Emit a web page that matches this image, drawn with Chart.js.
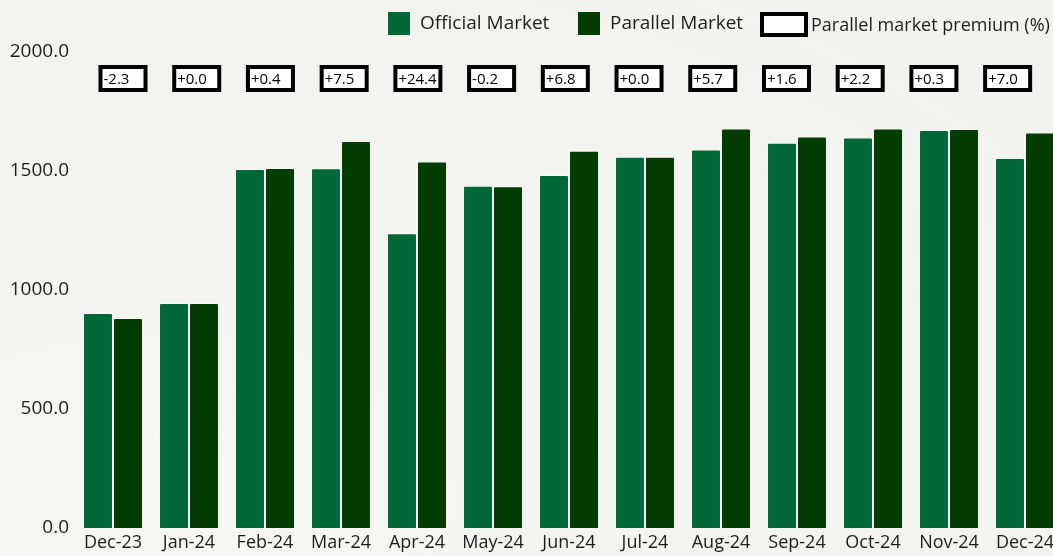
<!DOCTYPE html>
<html>
<head>
<meta charset="utf-8">
<script src="https://cdn.jsdelivr.net/npm/chart.js@4"></script>
<style>
  html, body { margin: 0; padding: 0; overflow: hidden; }
  body {
    width: 1053px; height: 556px;
    background: radial-gradient(ellipse at 15% 90%, #f6f6f2 0%, #f3f3ef 45%, #f2f2ee 100%);
  }
  #wrap { position: absolute; left: 0; top: 0; width: 1063px; height: 556px; }
</style>
</head>
<body>
<div id="wrap"><canvas id="myChart"></canvas></div>
<script>
// data
let months = ['Dec-23', 'Jan-24', 'Feb-24', 'Mar-24', 'Apr-24', 'May-24', 'Jun-24',
              'Jul-24', 'Aug-24', 'Sep-24', 'Oct-24', 'Nov-24', 'Dec-24'];
let officialRate = [903, 945, 1508, 1512, 1238, 1438, 1483, 1560, 1590, 1619, 1641, 1672, 1555];
let parallelRate = [882, 945, 1513, 1626, 1540, 1436, 1585, 1560, 1679, 1645, 1679, 1676, 1662];
let premium = ['-2.3', '+0.0', '+0.4', '+7.5', '+24.4', '-0.2', '+6.8',
               '+0.0', '+5.7', '+1.6', '+2.2', '+0.3', '+7.0'];
let yTicks = [0, 500, 1000, 1500, 2000];

let fontFamily = "'Open Sans', 'Noto Sans', sans-serif";
let textColor = '#1e1e1e';

// premium boxes + legend, drawn on the canvas
let premiumPlugin = {
    id: 'premiumBoxes',
    afterDraw(chart) {
        let ctx = chart.ctx;
        let x = chart.scales.x;
        let c0 = x.getPixelForValue(0);
        ctx.save();
        ctx.font = '15px ' + fontFamily;
        ctx.textBaseline = 'middle';
        ctx.textAlign = 'left';
        premium.forEach(function (p, i) {
            let cx = c0 + 10 + (x.getPixelForValue(i) - c0) * 0.97;
            let w = 45, h = 23;
            let left = cx - w / 2, top = 67;
            ctx.fillStyle = '#ffffff';
            ctx.fillRect(left, top, w, h);
            ctx.lineWidth = 4;
            ctx.strokeStyle = '#000000';
            ctx.strokeRect(left, top, w, h);
            ctx.fillStyle = '#000000';
            ctx.fillText(p, left + 3, top + h / 2 + 1);
        });

        // legend
        ctx.font = '19px ' + fontFamily;
        ctx.fillStyle = '#006837';
        ctx.fillRect(388, 12, 22, 23);
        ctx.fillStyle = textColor;
        ctx.fillText('Official Market', 420, 24);
        ctx.fillStyle = '#033d02';
        ctx.fillRect(578, 12, 22, 23);
        ctx.fillStyle = textColor;
        ctx.fillText('Parallel Market', 610, 24);
        ctx.fillStyle = '#ffffff';
        ctx.fillRect(762, 14, 44, 21);
        ctx.lineWidth = 4;
        ctx.strokeStyle = '#000000';
        ctx.strokeRect(762, 14, 44, 21);
        ctx.font = '18px ' + fontFamily;
        ctx.fillStyle = textColor;
        ctx.fillText('Parallel market premium (%)', 811, 26);
        ctx.restore();
    }
};

let ctx1 = document.getElementById('myChart').getContext('2d');
let myChart = new Chart(ctx1, {
    type: 'bar',
    data: {
        labels: months,
        datasets: [{
            label: 'Official Market',
            data: officialRate,
            backgroundColor: '#006837',
            borderColor: 'rgba(255, 255, 255, 0.45)',
            borderWidth: 1,
            borderRadius: 2,
            borderSkipped: 'bottom'
        }, {
            label: 'Parallel Market',
            data: parallelRate,
            backgroundColor: '#033d02',
            borderColor: 'rgba(255, 255, 255, 0.45)',
            borderWidth: 1,
            borderRadius: 2,
            borderSkipped: 'bottom'
        }]
    },
    options: {
        responsive: true,
        maintainAspectRatio: false,
        animation: false,
        layout: { padding: { top: 52, right: 0, bottom: 0, left: 0 } },
        datasets: { bar: { categoryPercentage: 0.79, barPercentage: 1.0 } },
        plugins: {
            legend: { display: false },
            tooltip: { enabled: false }
        },
        scales: {
            x: {
                grid: { display: false, drawTicks: false },
                border: { display: false },
                ticks: {
                    color: textColor,
                    font: { family: fontFamily, size: 18 },
                    padding: 4,
                    maxRotation: 0,
                    autoSkip: false
                },
                afterFit: function (scale) { scale.height = 28; }
            },
            y: {
                min: 0,
                max: 2000,
                grid: { display: false, drawTicks: false },
                border: { display: false },
                afterBuildTicks: function (scale) {
                    scale.ticks = yTicks.map(function (v) { return { value: v }; });
                },
                ticks: {
                    color: textColor,
                    font: { family: fontFamily, size: 19 },
                    padding: 6,
                    callback: function (v) { return Number(v).toFixed(1); }
                },
                afterFit: function (scale) { scale.width = 75; }
            }
        }
    },
    plugins: [premiumPlugin]
});
</script>
</body>
</html>
